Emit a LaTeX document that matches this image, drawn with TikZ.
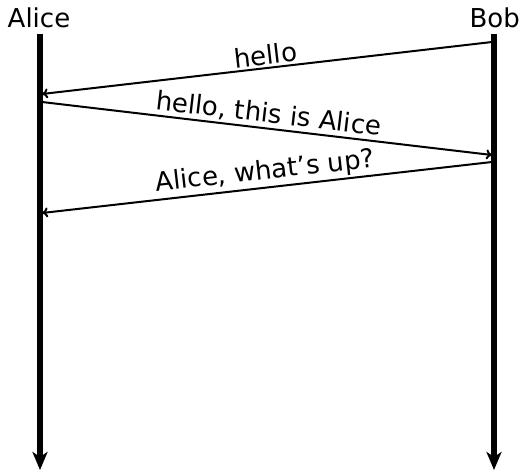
\documentclass[tikz,border=0pt]{standalone}
\usepackage{fontspec}
\setmainfont{DejaVu Sans}
\usetikzlibrary{arrows.meta}
\begin{document}
\begin{tikzpicture}[x=1pt,y=-1pt,
  lifeline/.style={line width=5.5pt,-{Stealth[length=18pt,width=15pt,inset=5pt]}},
  msg/.style={line width=2pt,-{To[length=6pt,width=10pt]}},
  msglabel/.style={midway,sloped,above,inner sep=2pt,font=\fontsize{26}{30}\selectfont},
  actor/.style={font=\fontsize{26}{30}\selectfont,inner sep=0pt,anchor=base}]
\useasboundingbox (0,0) rectangle (520,472);
\node[actor] (alice) at (39,27) {Alice};
\node[actor,anchor=base east] (bob) at (520,27) {Bob};
\coordinate (atop) at (40,34);
\coordinate (abot) at (40,470);
\coordinate (btop) at (494,34);
\coordinate (bbot) at (494,470);
\draw[lifeline] (atop) -- (abot);
\draw[lifeline] (btop) -- (bbot);
\coordinate (m1s) at (492,42);
\coordinate (m1e) at (42,94);
\coordinate (m2s) at (42,102);
\coordinate (m2e) at (492,155);
\coordinate (m3s) at (492,162);
\coordinate (m3e) at (42,213);
\draw[msg] (m1s) -- node[msglabel] {hello} (m1e);
\draw[msg] (m2s) -- node[msglabel] {hello, this is Alice} (m2e);
\draw[msg] (m3s) -- node[msglabel] {Alice, what’s up?} (m3e);
\end{tikzpicture}
\end{document}
